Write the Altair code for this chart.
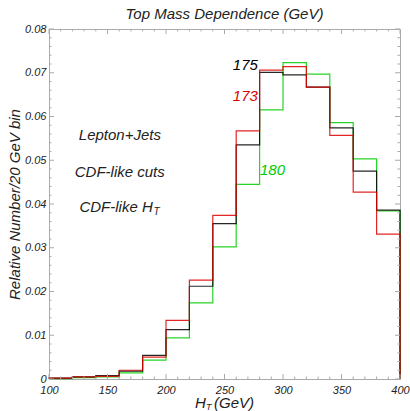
import altair as alt
import pandas as pd

# ---- data ----
bin_edges = [100, 120, 140, 160, 180, 200, 220, 240, 260, 280, 300, 320, 340, 360, 380]
upper_edge = 400
m175 = [0.0002, 0.0005, 0.0008, 0.0018, 0.0054, 0.0113, 0.0212, 0.0355, 0.0535, 0.0701, 0.0695, 0.0667, 0.0574, 0.0475, 0.0386]
m173 = [0.0002, 0.0005, 0.0006, 0.0020, 0.0050, 0.0134, 0.0226, 0.0374, 0.0567, 0.0706, 0.0714, 0.0667, 0.0557, 0.0427, 0.0331]
m180 = [0.0001, 0.0003, 0.0005, 0.0014, 0.0043, 0.0094, 0.0174, 0.0302, 0.0445, 0.0615, 0.0723, 0.0697, 0.0586, 0.0503, 0.0384]
series_names = ["180", "175", "173"]
series_vals = [m180, m175, m173]
series_colors = ["#00cc00", "#000000", "#dd0000"]

x_major = [100, 150, 200, 250, 300, 350, 400]
x_minor = [v for v in range(100, 401, 10) if v % 50 != 0]
y_major = [0.0, 0.01, 0.02, 0.03, 0.04, 0.05, 0.06, 0.07, 0.08]
y_minor = [round(i * 0.002, 3) for i in range(41) if i % 5 != 0]

FONT = "Liberation Sans"
TXT = "#222222"
FRAME = "#aaaaaa"
W, H = 351, 350

rows = []
for name, vals in zip(series_names, series_vals):
    i = 0
    rows.append({"s": name, "i": i, "x": bin_edges[0], "y": 0.0}); i += 1
    for e, v in zip(bin_edges, vals):
        rows.append({"s": name, "i": i, "x": e, "y": v}); i += 1
    rows.append({"s": name, "i": i, "x": upper_edge, "y": vals[-1]}); i += 1
    rows.append({"s": name, "i": i, "x": upper_edge, "y": 0.0}); i += 1
df = pd.DataFrame(rows)

xs = alt.Scale(domain=[100, 400], nice=False, zero=False)
ys = alt.Scale(domain=[0, 0.08], nice=False)

xaxis = alt.Axis(values=x_major, format="d", tickSize=0, domain=False, grid=False,
                 labelFont=FONT, labelFontStyle="italic", labelFontSize=11, labelColor=TXT,
                 labelPadding=5, title=None, labelFlush=False)
yaxis = alt.Axis(values=y_major, format=".2f", tickSize=0, domain=False, grid=False,
                 labelFont=FONT, labelFontStyle="italic", labelFontSize=11, labelColor=TXT,
                 labelPadding=3, title="Relative Number/20 GeV bin", titleFont=FONT,
                 titleFontStyle="italic", titleFontSize=15, titleFontWeight="normal",
                 titleColor=TXT, titlePadding=2, labelExpr="datum.value == 0 ? '0' : datum.label")

def X(field):
    return alt.X(field, type="quantitative", scale=xs, axis=xaxis)

def Y(field):
    return alt.Y(field, type="quantitative", scale=ys, axis=yaxis)

lines = alt.Chart(df).mark_line(interpolate="step-after", strokeWidth=1.2, opacity=0.85).encode(
    x=X("x"),
    y=Y("y"),
    color=alt.Color("s:N", scale=alt.Scale(domain=series_names, range=series_colors), legend=None),
    detail="s:N",
    order=alt.Order("i:Q"),
)

def xticks(vals, length):
    d = pd.DataFrame({"v": vals})
    b = alt.Chart(d).mark_rule(color=FRAME, strokeWidth=1).encode(
        x=X("v"), y=alt.value(H), y2=alt.value(H - length))
    t = alt.Chart(d).mark_rule(color=FRAME, strokeWidth=1).encode(
        x=X("v"), y=alt.value(0), y2=alt.value(length))
    return [b, t]

def yticks(vals, length):
    d = pd.DataFrame({"v": vals})
    l = alt.Chart(d).mark_rule(color=FRAME, strokeWidth=1).encode(
        y=Y("v"), x=alt.value(0), x2=alt.value(length))
    r = alt.Chart(d).mark_rule(color=FRAME, strokeWidth=1).encode(
        y=Y("v"), x=alt.value(W), x2=alt.value(W - length))
    return [l, r]

tick_layers = xticks(x_major, 5) + xticks(x_minor, 2.5) + yticks(y_major, 5) + yticks(y_minor, 2.5)

# annotations in data coordinates
ann_text = ["Lepton+Jets", "CDF-like cuts", "CDF-like H"]
ann_x = [125.5, 122.0, 126.0]
ann_y = [0.0557, 0.0473, 0.0393]
ann = alt.Chart(pd.DataFrame({"t": ann_text, "x": ann_x, "y": ann_y})).mark_text(
    align="left", baseline="middle", font=FONT, fontStyle="italic", fontSize=15, color=TXT
).encode(x=X("x"), y=Y("y"), text="t:N")
ann_sub = alt.Chart(pd.DataFrame({"t": ["T"], "x": [126.0], "y": [0.0393]})).mark_text(
    align="left", baseline="middle", font=FONT, fontStyle="italic", fontSize=10, color=TXT, dx=74, dy=5
).encode(x=X("x"), y=Y("y"), text="t:N")

lab_text = ["175", "173", "180"]
lab_x = [278.5, 278.5, 280.3]
lab_y = [0.0717, 0.0647, 0.0477]
lab_align = ["right", "right", "left"]
lab_df = pd.DataFrame({"t": lab_text, "x": lab_x, "y": lab_y, "a": lab_align})
labs = alt.Chart(lab_df).mark_text(
    baseline="middle", font=FONT, fontStyle="italic", fontSize=15
).encode(
    x=X("x"), y=Y("y"), text="t:N",
    color=alt.Color("t:N", scale=alt.Scale(domain=lab_text, range=["#000000", "#dd0000", "#00cc00"]), legend=None),
)
labs_r = labs.transform_filter("datum.a == 'right'").mark_text(
    align="right", baseline="middle", font=FONT, fontStyle="italic", fontSize=15)
labs_l = labs.transform_filter("datum.a == 'left'").mark_text(
    align="left", baseline="middle", font=FONT, fontStyle="italic", fontSize=15)

# x axis title with subscript
xt_h = alt.Chart(pd.DataFrame({"t": ["H"]})).mark_text(align="left", baseline="middle", font=FONT,
                                                       fontStyle="italic", fontSize=15, color=TXT).encode(
    text="t:N", x=alt.value(146), y=alt.value(374))
xt_t = alt.Chart(pd.DataFrame({"t": ["T"]})).mark_text(align="left", baseline="middle", font=FONT,
                                                       fontStyle="italic", fontSize=9, color=TXT).encode(
    text="t:N", x=alt.value(157), y=alt.value(378))
xt_g = alt.Chart(pd.DataFrame({"t": ["(GeV)"]})).mark_text(align="left", baseline="middle", font=FONT,
                                                           fontStyle="italic", fontSize=15, color=TXT).encode(
    text="t:N", x=alt.value(165), y=alt.value(374))

chart = alt.layer(
    lines, *tick_layers, ann, ann_sub, labs_r, labs_l, xt_h, xt_t, xt_g
).properties(
    width=W, height=H,
    title=alt.TitleParams("Top Mass Dependence (GeV)", font=FONT, fontStyle="italic", fontSize=15,
                          fontWeight="normal", color=TXT, offset=1),
    padding={"left": 49, "top": 29, "right": 10, "bottom": 32},
    autosize=alt.AutoSizeParams(type="none"),
    background="white",
).configure_view(stroke=FRAME, strokeWidth=1)

chart.save("out.html", embed_options={"renderer": "svg", "actions": False})
